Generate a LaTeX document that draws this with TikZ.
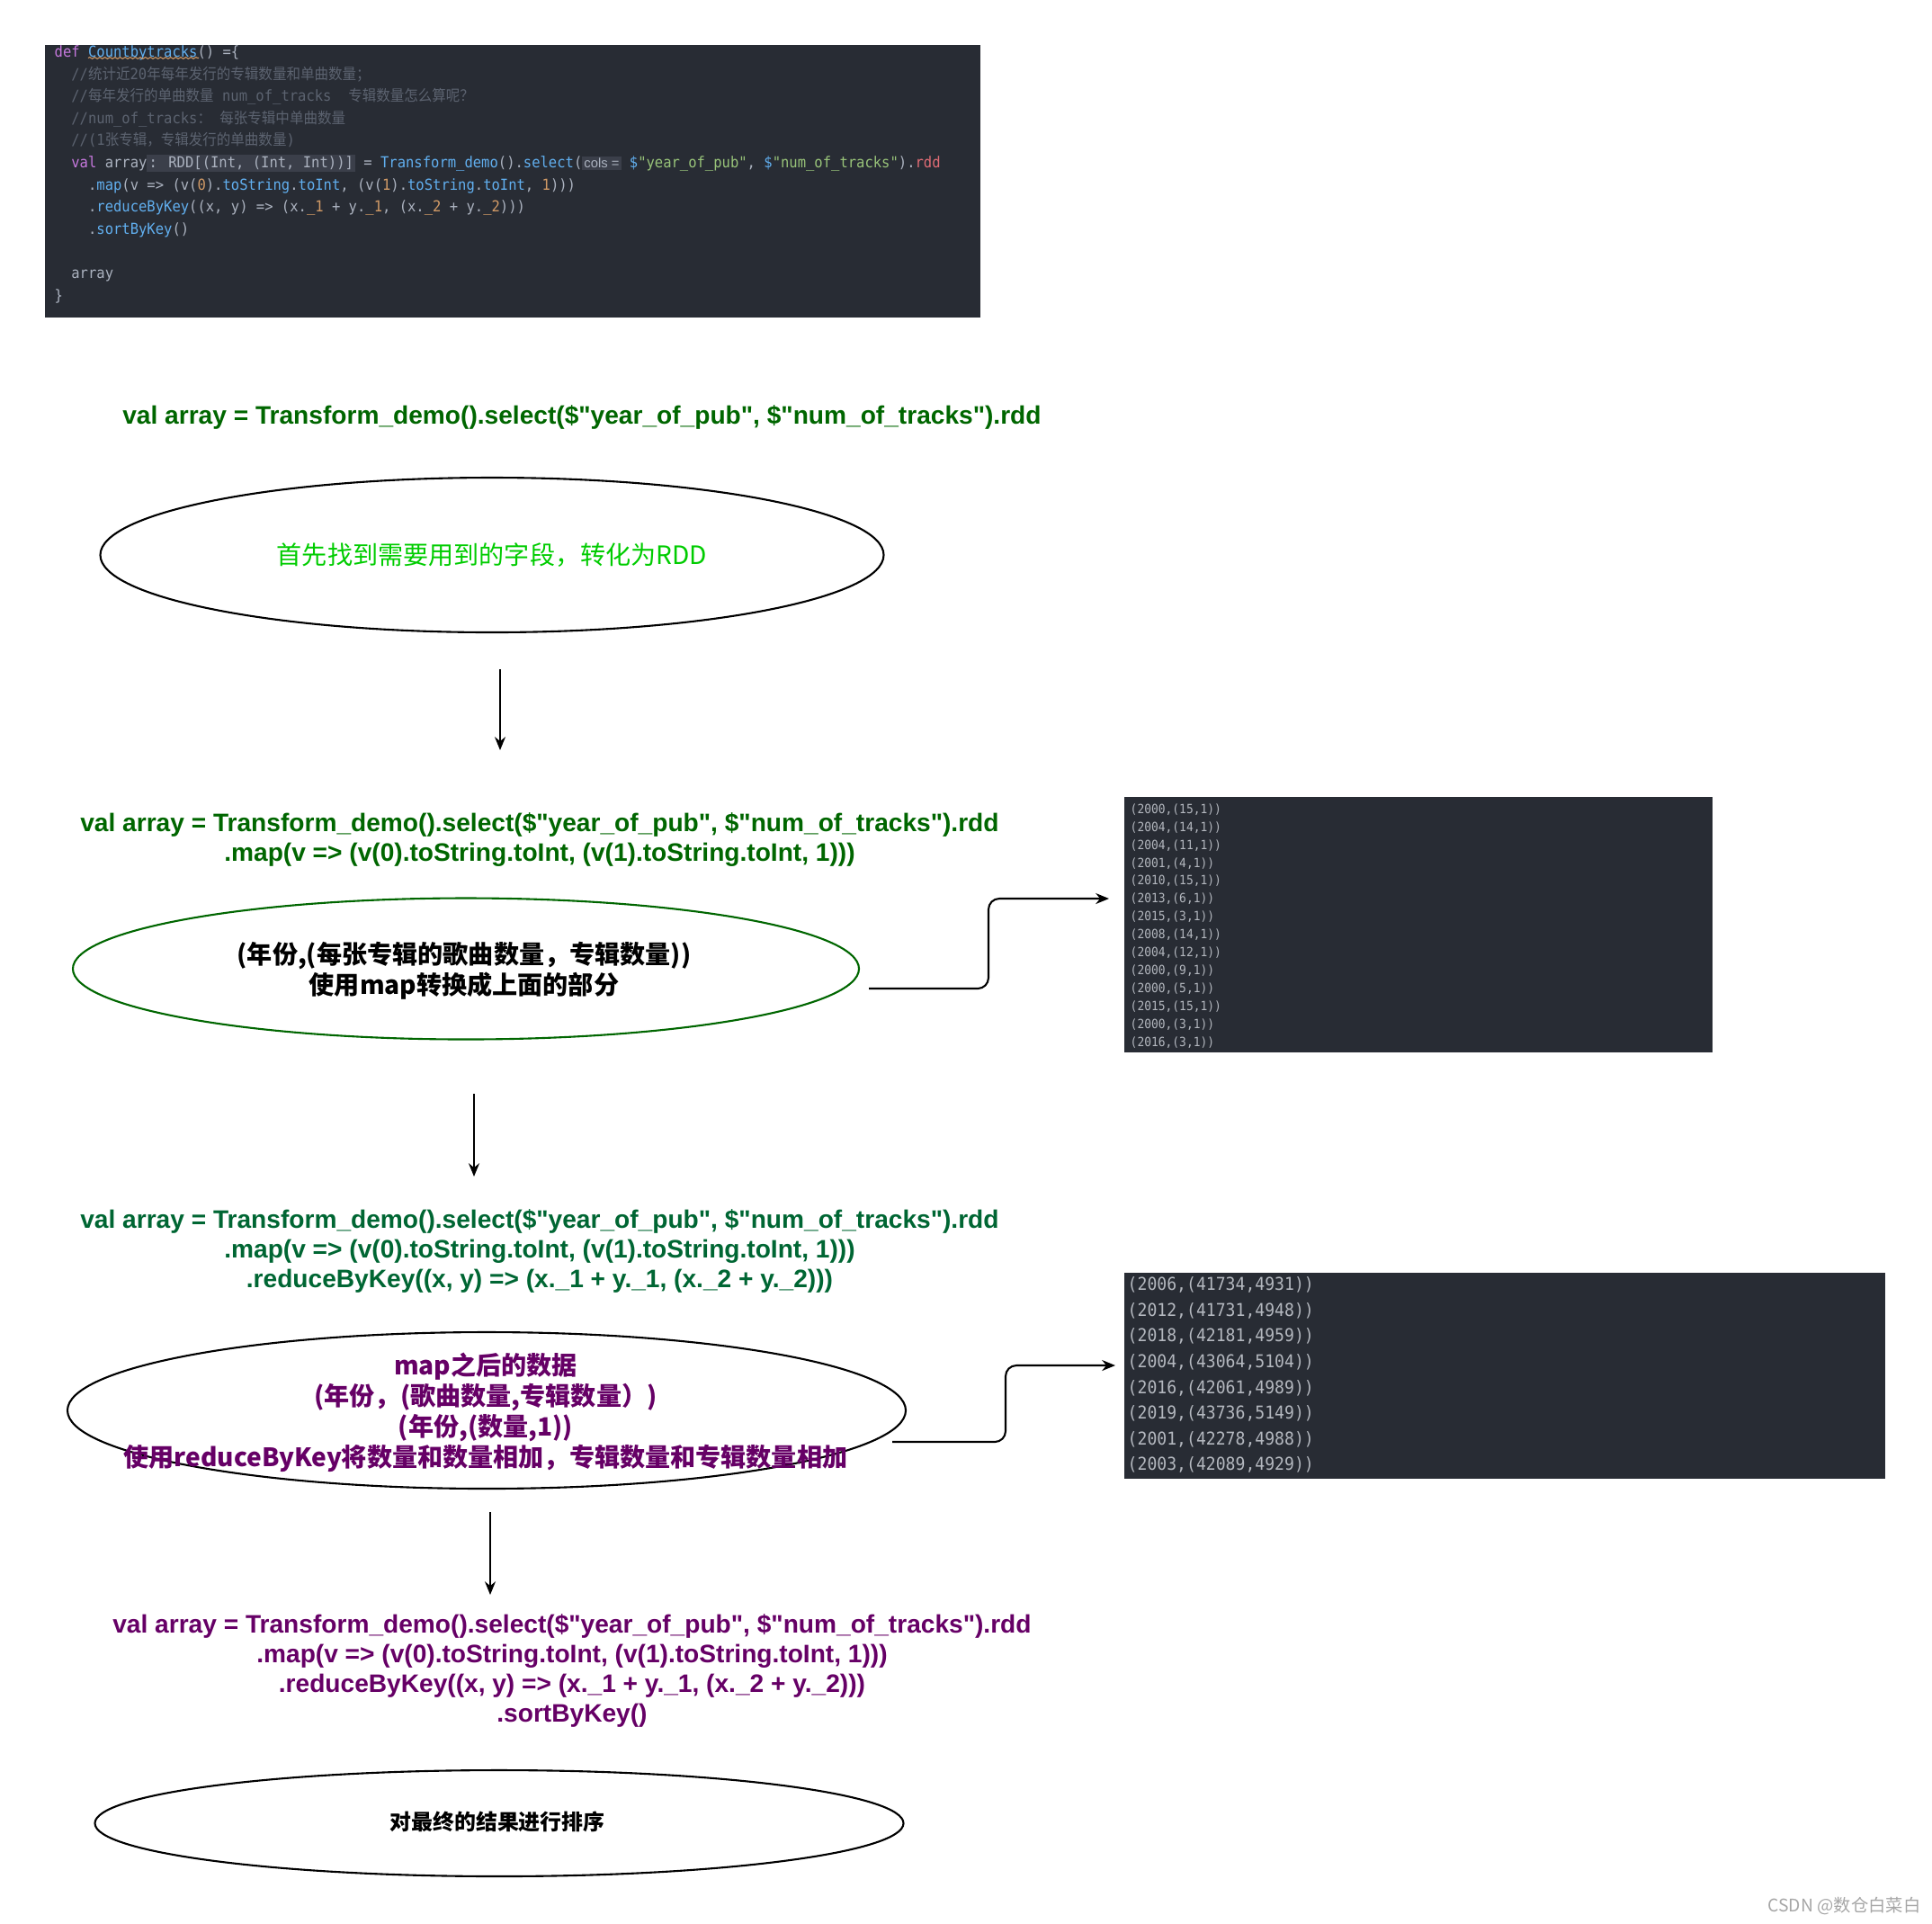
\documentclass[tikz,border=0pt]{standalone}
\usepackage{fontspec}
\setmainfont{Liberation Sans}
\newfontfamily\lblfont{Liberation Sans}
\newfontfamily\cjk{Noto Sans CJK SC}
\newfontfamily\codefont[FakeStretch=0.92]{DejaVu Sans Mono}
\newfontfamily\codecjk[FakeStretch=0.92]{Noto Sans CJK SC}
\usetikzlibrary{shapes.geometric,arrows.meta,decorations.pathmorphing}

\definecolor{codebg}{HTML}{282C34}
\definecolor{hintbg}{HTML}{3B3F4A}
\definecolor{darkgreen}{HTML}{006600}
\definecolor{tealgreen}{HTML}{006633}
\definecolor{litegreen}{HTML}{00CC00}
\definecolor{plum}{HTML}{660066}
\definecolor{kwcol}{HTML}{C678DD}
\definecolor{fncol}{HTML}{61AFEF}
\definecolor{plaincol}{HTML}{ABB2BF}
\definecolor{cmtcol}{HTML}{5C6370}
\definecolor{strcol}{HTML}{98C379}
\definecolor{numcol}{HTML}{D19A66}
\definecolor{redcol}{HTML}{E06C75}
\definecolor{outcol}{HTML}{B4B8BF}

\setlength{\fboxsep}{0.6pt}
\newcommand{\zh}[1]{{\codecjk #1}}
\newcommand{\ckw}[1]{\textcolor{kwcol}{#1}}
\newcommand{\cfn}[1]{\textcolor{fncol}{#1}}
\newcommand{\ccm}[1]{\textcolor{cmtcol}{#1}}
\newcommand{\cstr}[1]{\textcolor{strcol}{#1}}
\newcommand{\cnum}[1]{\textcolor{numcol}{#1}}
\newcommand{\crdd}[1]{\textcolor{redcol}{#1}}
\newcommand{\chint}[1]{\colorbox{hintbg}{#1}}

\newcommand{\rddline}{val array = Transform\_demo().select(\$"year\_of\_pub", \$"num\_of\_tracks").rdd}
\newcommand{\mapline}{.map(v => (v(0).toString.toInt, (v(1).toString.toInt, 1)))}
\newcommand{\reduceline}{.reduceByKey((x, y) => (x.\_1 + y.\_1, (x.\_2 + y.\_2)))}

\begin{document}
\begin{tikzpicture}[
  oval/.style={ellipse, draw, line width=0.6pt, inner sep=0pt},
  codeline/.style={font={\lblfont\bfseries\fontsize{8}{9.4}\selectfont}, align=center, inner sep=0pt},
  zhtext/.style={font={\cjk\bfseries\fontsize{8}{9.7}\selectfont}, align=center, inner sep=0pt},
  panel/.style={fill=codebg, anchor=north west, inner sep=0pt},
  arr/.style={-{Stealth[length=4.2pt,width=3.4pt]}, line width=0.6pt},
]
  \useasboundingbox (0,0) rectangle (21.48,-21.38);

  % IDE screenshot of the function
  \node[panel, minimum width=10.40cm, minimum height=3.03cm] (code) at (0.49,-0.49) {};
  \node[anchor=north west, inner sep=0pt, align=left, text=plaincol,
        font=\codefont\fontsize{4.8}{7}\selectfont] (codetxt) at (0.60,-0.50) {%
    \ckw{def} \cfn{Countbytracks}() =\{\\
    \phantom{xx}\ccm{//\zh{统计近}20\zh{年每年发行的专辑数量和单曲数量；}}\\
    \phantom{xx}\ccm{//\zh{每年发行的单曲数量} num\_of\_tracks \ \zh{专辑数量怎么算呢？}}\\
    \phantom{xx}\ccm{//num\_of\_tracks\zh{：} \zh{每张专辑中单曲数量}}\\
    \phantom{xx}\ccm{//(1\zh{张专辑，专辑发行的单曲数量})}\\
    \phantom{xx}\ckw{val} array\chint{: RDD[(Int, (Int, Int))]} = \cfn{Transform\_demo}().\cfn{select}(\chint{\lblfont\fontsize{4.2}{5}\selectfont cols =} \cfn{\$}\cstr{"year\_of\_pub"}, \cfn{\$}\cstr{"num\_of\_tracks"}).\crdd{rdd}\\
    \phantom{xxxx}.\cfn{map}(v => (v(\cnum{0}).\cfn{toString}.\cfn{toInt}, (v(\cnum{1}).\cfn{toString}.\cfn{toInt}, \cnum{1})))\\
    \phantom{xxxx}.\cfn{reduceByKey}((x, y) => (x.\cnum{\_1} + y.\cnum{\_1}, (x.\cnum{\_2} + y.\cnum{\_2})))\\
    \phantom{xxxx}.\cfn{sortByKey}()\\[7pt]
    \phantom{xx}array\\
    \}};
  % wavy mark under the function name
  \draw[numcol, line width=0.3pt, decorate, decoration={snake, amplitude=0.25pt, segment length=1.6pt}] (0.98,-0.645) -- (2.21,-0.645);

  % step 1
  \node[codeline, text=darkgreen] (t1) at (6.47,-4.64) {\rddline};
  \node[oval, minimum width=8.71cm, minimum height=1.72cm] (e1) at (5.47,-6.17) {};
  \node[zhtext, font={\cjk\fontsize{8}{9.7}\selectfont}, text=litegreen] (e1txt) at (e1) {首先找到需要用到的字段，转化为RDD};
  \coordinate (a1s) at (5.56,-7.44);
  \coordinate (a1e) at (5.56,-8.34);
  \draw[arr] (a1s) -- (a1e);

  % step 2: map
  \node[codeline, text=darkgreen] (t2) at (6.00,-9.34) {\rddline\\\mapline};
  \node[oval, draw=darkgreen, minimum width=8.74cm, minimum height=1.57cm] (e2) at (5.18,-10.77) {};
  \node[zhtext] (e2txt) at (5.16,-10.79) {(年份,(每张专辑的歌曲数量，专辑数量))\\使用map转换成上面的部分};
  \node[panel, minimum width=6.54cm, minimum height=2.84cm] (out1) at (12.49,-8.85) {};
  \node[anchor=north west, inner sep=0pt, align=left, text=outcol,
        font=\codefont\fontsize{4.0}{5.66}\selectfont] (out1txt) at ([xshift=0.07cm,yshift=-0.08cm]out1.north west) {%
    (2000,(15,1))\\(2004,(14,1))\\(2004,(11,1))\\(2001,(4,1))\\(2010,(15,1))\\(2013,(6,1))\\(2015,(3,1))\\
    (2008,(14,1))\\(2004,(12,1))\\(2000,(9,1))\\(2000,(5,1))\\(2015,(15,1))\\(2000,(3,1))\\(2016,(3,1))};
  \coordinate (c1s) at (9.66,-10.99);
  \coordinate (c1e) at (12.33,-9.99);
  \draw[arr, rounded corners=0.12cm] (c1s) -- ++(1.33,0) |- (c1e);
  \coordinate (a2s) at (5.27,-12.16);
  \coordinate (a2e) at (5.27,-13.08);
  \draw[arr] (a2s) -- (a2e);

  % step 3: reduceByKey
  \node[codeline, text=tealgreen] (t3) at (6.00,-13.91) {\rddline\\\mapline\\\reduceline};
  \node[oval, minimum width=9.32cm, minimum height=1.74cm] (e3) at (5.41,-15.68) {};
  \node[zhtext, text=plum] (e3txt) at (5.40,-15.70) {map之后的数据\\(年份，(歌曲数量,专辑数量）)\\(年份,(数量,1))\\使用reduceByKey将数量和数量相加，专辑数量和专辑数量相加};
  \node[panel, minimum width=8.46cm, minimum height=2.29cm] (out2) at (12.49,-14.14) {};
  \node[anchor=north west, inner sep=0pt, align=left, text=outcol,
        font=\codefont\fontsize{5.6}{8.14}\selectfont] (out2txt) at ([xshift=0.04cm,yshift=-0.05cm]out2.north west) {%
    (2006,(41734,4931))\\(2012,(41731,4948))\\(2018,(42181,4959))\\(2004,(43064,5104))\\
    (2016,(42061,4989))\\(2019,(43736,5149))\\(2001,(42278,4988))\\(2003,(42089,4929))};
  \coordinate (c2s) at (9.92,-16.03);
  \coordinate (c2e) at (12.40,-15.18);
  \draw[arr, rounded corners=0.12cm] (c2s) -- ++(1.26,0) |- (c2e);
  \coordinate (a3s) at (5.45,-16.81);
  \coordinate (a3e) at (5.45,-17.73);
  \draw[arr] (a3s) -- (a3e);

  % step 4: sortByKey
  \node[codeline, text=plum] (t4) at (6.36,-18.57) {\rddline\\\mapline\\\reduceline\\.sortByKey()};
  \node[oval, minimum width=8.99cm, minimum height=1.18cm] (e4) at (5.55,-20.27) {};
  \node[zhtext, font={\cjk\bfseries\fontsize{6.8}{8}\selectfont}] (e4txt) at (5.53,-20.25) {对最终的结果进行排序};

  \node[anchor=east, inner sep=0pt, text=gray!70, font={\cjk\fontsize{5.5}{6.5}\selectfont}] (mark) at (21.36,-21.19) {CSDN @数仓白菜白};
\end{tikzpicture}
\end{document}
